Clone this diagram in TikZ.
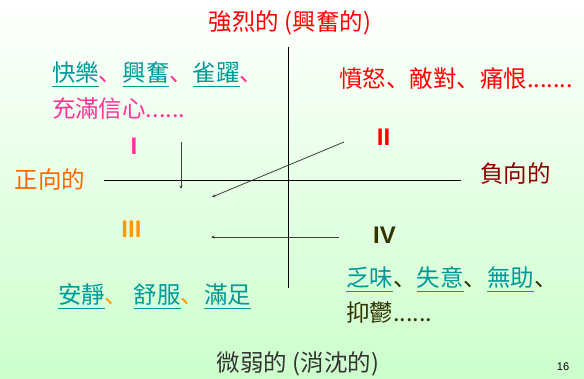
\documentclass[tikz,border=0pt]{standalone}
\usepackage{fontspec}
\setmainfont{Noto Sans CJK TC}
\newfontfamily\numfont{Liberation Sans}
\newfontfamily\jpfont{Noto Sans CJK JP}
\usetikzlibrary{arrows.meta}
\definecolor{tealw}{RGB}{0,153,153}
\definecolor{pinkc}{RGB}{255,51,153}
\definecolor{redc}{RGB}{255,0,0}
\definecolor{orangec}{RGB}{255,102,0}
\definecolor{amberc}{RGB}{255,153,0}
\definecolor{darkredc}{RGB}{140,0,0}
\definecolor{olivec}{RGB}{51,51,0}
\definecolor{grayc}{RGB}{51,51,51}
\definecolor{bgbottom}{RGB}{204,255,204}
\newcommand\ulw[1]{\setbox0\hbox{#1}\rlap{\raisebox{-5.8pt}{\color{tealw}\rule{\wd0}{1.3pt}}}\box0}
\newcommand\dn{{\jpfont 、}}
\tikzset{
  txt/.style={inner sep=0pt, outer sep=0pt, anchor=base west, font=\fontsize{23.5pt}{26pt}\selectfont},
  ctxt/.style={txt, anchor=base},
  numr/.style={inner sep=0pt, outer sep=0pt, anchor=base, font=\numfont\bfseries\fontsize{24pt}{26pt}\selectfont},
  axis/.style={draw=black, line width=1pt},
  arr/.style={draw=black!75, line width=0.8pt, -{Stealth[length=3.5pt,width=3pt]}}
}
\begin{document}
\begin{tikzpicture}[x=1pt,y=-1pt]
\shade[top color=white, bottom color=bgbottom] (0,0) rectangle (584,378);
\useasboundingbox (0,0) rectangle (584,378);
% axes
\coordinate (vtop) at (288.5,47);
\coordinate (vbot) at (288.5,288);
\coordinate (hl) at (104,180);
\coordinate (hr) at (461,180);
\draw[axis] (vtop) -- (vbot);
\draw[axis] (hl) -- (hr);
% arrows
\coordinate (a1s) at (181,142);
\coordinate (a1e) at (181,189);
\coordinate (a2s) at (344,142);
\coordinate (a2e) at (212,197);
\coordinate (a3s) at (339,237);
\coordinate (a3e) at (211,237);
\draw[arr] (a1s) -- (a1e);
\draw[arr] (a2s) -- (a2e);
\draw[arr] (a3s) -- (a3e);
% titles
\node[ctxt, text=redc] (top) at (290,30) {強烈的 (興奮的)};
\node[ctxt, text=grayc] (bottom) at (298,371) {微弱的 (消沈的)};
\node[txt, text=orangec] (pos) at (15,188) {正向的};
\node[txt, text=darkredc] (neg) at (480,182) {負向的};
% numerals
\node[numr, text=pinkc] (q1) at (134,154) {I};
\node[numr, text=redc] (q2) at (383.5,145) {II};
\node[numr, text=amberc] (q3) at (131.5,237) {III};
\node[numr, text=olivec] (q4) at (384.5,243) {IV};
% quadrant texts
\node[txt, text=pinkc] (t1a) at (52,81) {\textcolor{tealw}{\ulw{快樂}}\dn\textcolor{tealw}{\ulw{興奮}}\dn\textcolor{tealw}{\ulw{雀躍}}\dn};
\node[txt, text=pinkc] (t1b) at (52,117) {充滿信心......};
\node[txt, text=redc] (t2) at (339,87) {憤怒\dn 敵對\dn 痛恨.......};
\node[txt, text=amberc] (t3) at (58,303) {\textcolor{tealw}{\ulw{安靜}}\dn\ \textcolor{tealw}{\ulw{舒服}}\dn\textcolor{tealw}{\ulw{滿足}}};
\node[txt, text=olivec] (t4a) at (346,286) {\textcolor{tealw}{\ulw{乏味}}\dn\textcolor{tealw}{\ulw{失意}}\dn\textcolor{tealw}{\ulw{無助}}\dn};
\node[txt, text=olivec] (t4b) at (346,321) {抑鬱......};
\node[inner sep=0pt, anchor=base, font=\numfont\fontsize{11pt}{12pt}\selectfont, text=black] (pg) at (563,370) {16};
\end{tikzpicture}
\end{document}
